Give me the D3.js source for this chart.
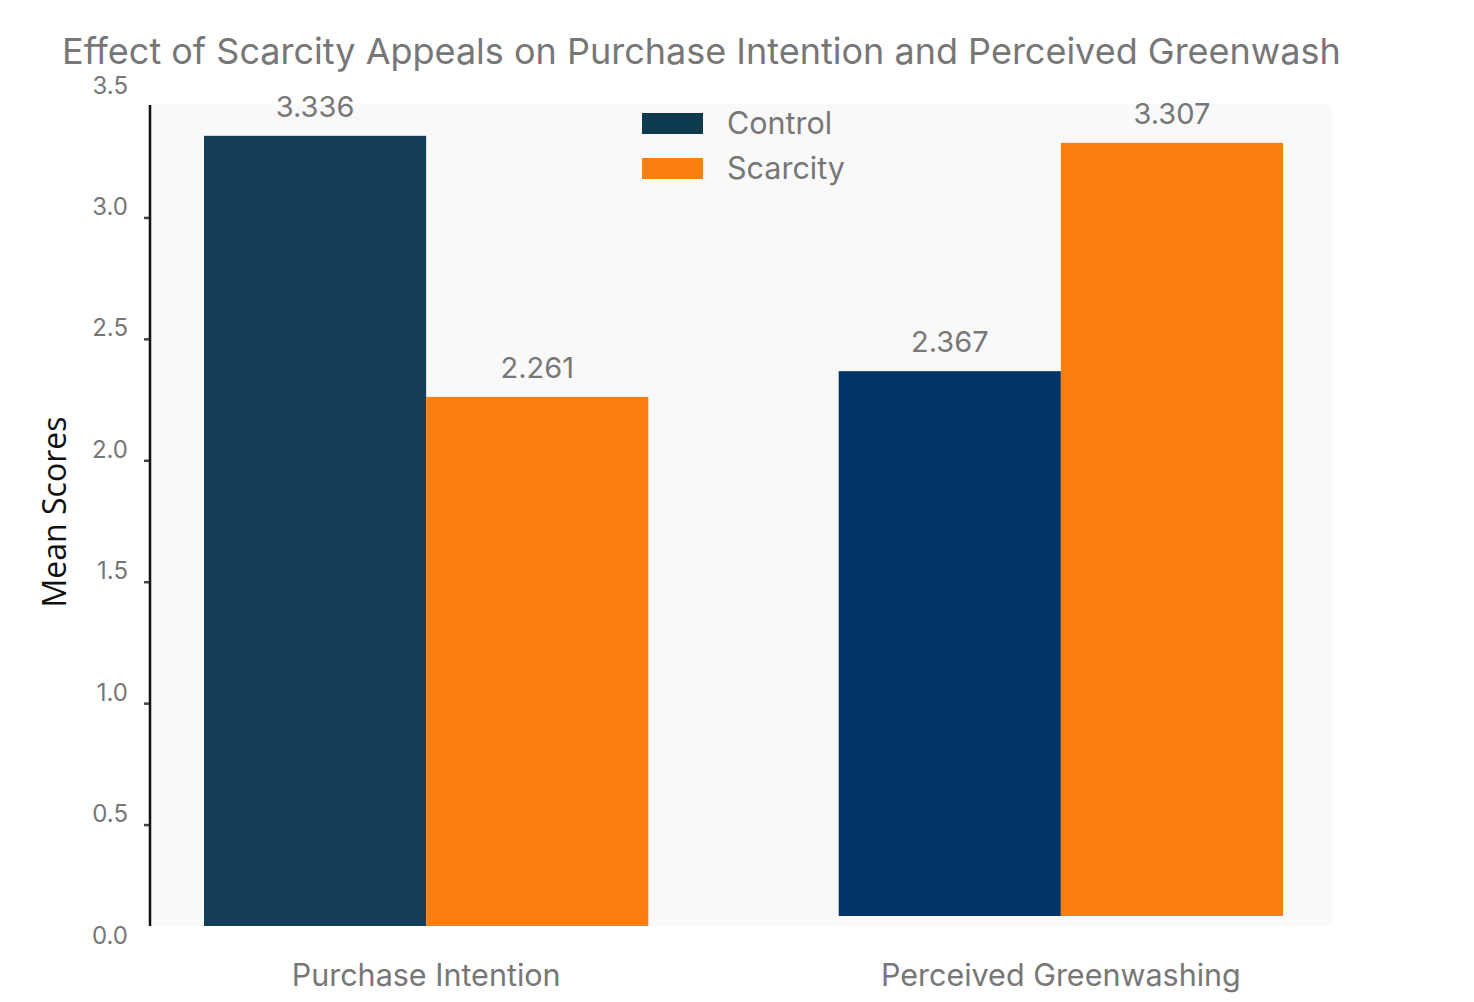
<!DOCTYPE html>
<html>
<head>
<meta charset="utf-8">
<script src="https://cdn.jsdelivr.net/npm/d3@7/dist/d3.min.js"></script>
<style>
  html, body { margin: 0; padding: 0; background: #ffffff; }
  svg { display: block; }
  text { font-family: Inter, "Noto Sans", sans-serif; }
</style>
</head>
<body>
<svg id="chart" width="1474" height="1002"></svg>
<script>
// ---- data ----
const categories = ["Purchase Intention", "Perceived Greenwashing"];
const seriesNames = ["Control", "Scarcity"];
const controlValues = [3.336, 2.367];
const scarcityValues = [2.261, 3.307];
const yTicks = [0, 0.5, 1.0, 1.5, 2.0, 2.5, 3.0, 3.5];
const titleText = "Effect of Scarcity Appeals on Purchase Intention and Perceived Greenwash";
const yTitle = "Mean Scores";

// ---- styles ----
const controlColors = ["#143e58", "#003366"];
const legendControlColor = "#0d3a4c";
const scarcityColor = "#fd7f10";
const grayText = "#777777";

const svg = d3.select("#chart");

const y = d3.scaleLinear().domain([0, 3.5]).range([946, 96]);
const x0 = d3.scaleBand().domain(categories).range([204, 1283]).paddingInner(0.3).paddingOuter(0);
const x1 = d3.scaleBand().domain(seriesNames).range([0, x0.bandwidth()]).padding(0);
const groupBase = [926, 916];

// plot background
svg.append("rect")
  .attr("x", 150).attr("y", 104).attr("width", 1182).attr("height", 822)
  .attr("rx", 6)
  .attr("fill", "#f9f9f9");

// title
svg.append("text")
  .attr("x", 62).attr("y", 64)
  .attr("font-size", 36)
  .attr("fill", grayText)
  .text(titleText);

// bars
const rows = categories.map((c, i) => ({
  cat: c, i,
  vals: [
    {s: "Control", v: controlValues[i], color: controlColors[i]},
    {s: "Scarcity", v: scarcityValues[i], color: scarcityColor}
  ]
}));

const g = svg.append("g");
const groups = g.selectAll("g.grp").data(rows).join("g")
  .attr("class", "grp")
  .attr("transform", d => `translate(${x0(d.cat)},0)`);

groups.selectAll("rect").data(d => d.vals.map(v => ({...v, base: groupBase[d.i]}))).join("rect")
  .attr("x", d => x1(d.s))
  .attr("y", d => y(d.v))
  .attr("width", x1.bandwidth())
  .attr("height", d => d.base - y(d.v))
  .attr("fill", d => d.color);

groups.selectAll("text.val").data(d => d.vals).join("text")
  .attr("class", "val")
  .attr("x", d => x1(d.s) + x1.bandwidth() / 2)
  .attr("y", d => y(d.v) - 19)
  .attr("text-anchor", "middle")
  .attr("font-size", 29)
  .attr("fill", grayText)
  .text(d => d.v.toFixed(3));

// y axis
const yAxis = d3.axisLeft(y).tickValues(yTicks).tickFormat(d3.format(".1f")).tickSize(6).tickPadding(16);
const ag = svg.append("g").attr("transform", "translate(150,0)").call(yAxis);
ag.select(".domain").remove();
ag.selectAll(".tick line")
  .attr("stroke", "#444")
  .attr("stroke-width", 2.5)
  .attr("display", d => (d === 0 || d === 3.5) ? "none" : null);
ag.selectAll(".tick text")
  .attr("font-size", 24)
  .attr("fill", grayText)
  .attr("dy", "-0.12em")
  .style("font-family", "Inter, 'Noto Sans', sans-serif");
ag.append("line")
  .attr("x1", 0).attr("x2", 0).attr("y1", 105).attr("y2", 926)
  .attr("stroke", "#111").attr("stroke-width", 2.5);

// y title
svg.append("text")
  .attr("transform", "translate(66,512) rotate(-90)")
  .attr("text-anchor", "middle")
  .attr("font-size", 32)
  .attr("fill", "#111")
  .style("font-family", "'Open Sans', sans-serif")
  .text(yTitle);

// category labels
svg.selectAll("text.cat").data(categories).join("text")
  .attr("class", "cat")
  .attr("x", d => x0(d) + x0.bandwidth() / 2)
  .attr("y", 986)
  .attr("text-anchor", "middle")
  .attr("font-size", 30.5)
  .attr("fill", grayText)
  .text(d => d);

// legend
const legendColors = [legendControlColor, scarcityColor];
const lg = svg.append("g").attr("transform", "translate(642,113)");
const li = lg.selectAll("g").data(seriesNames).join("g")
  .attr("transform", (d, i) => `translate(0,${i * 45})`);
li.append("rect").attr("width", 61).attr("height", 21).attr("fill", (d, i) => legendColors[i]);
li.append("text")
  .attr("x", 85).attr("y", 21)
  .attr("font-size", 30.5)
  .attr("fill", grayText)
  .text(d => d);
</script>
</body>
</html>
